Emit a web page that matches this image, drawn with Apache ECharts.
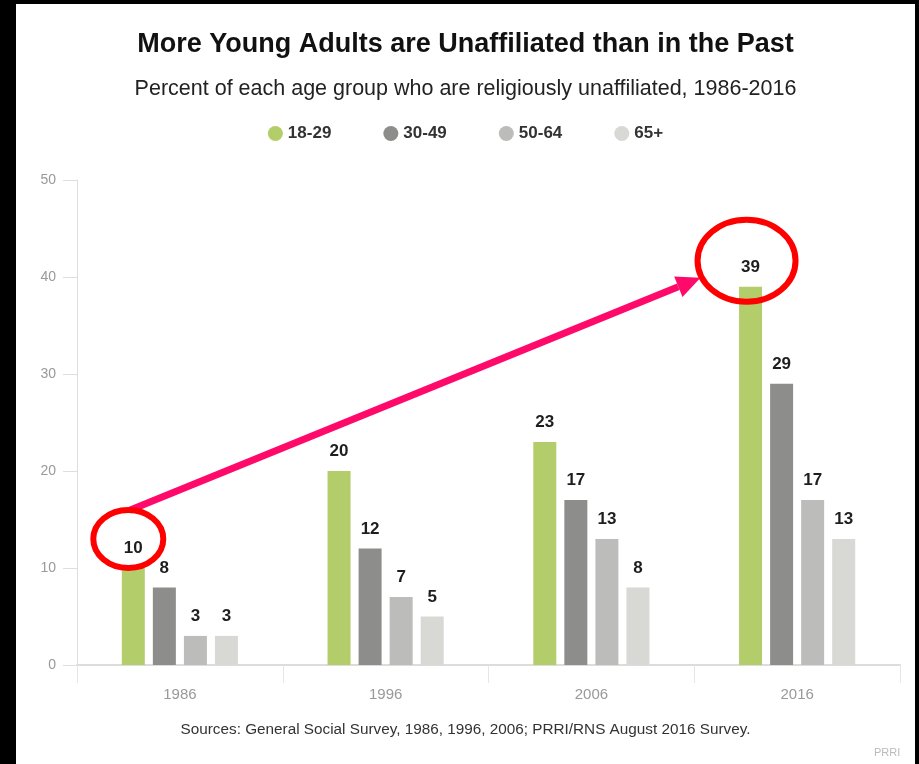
<!DOCTYPE html>
<html>
<head>
<meta charset="utf-8">
<title>More Young Adults are Unaffiliated than in the Past</title>
<script src="https://cdn.jsdelivr.net/npm/echarts@6/dist/echarts.min.js"></script>
<style>
  html, body {
    margin: 0;
    padding: 0;
    background: #000;
    width: 919px;
    height: 764px;
    overflow: hidden;
  }
  #chart {
    position: absolute;
    left: 16px;
    top: 4px;
    width: 899px;
    height: 760px;
    background: #fff;
  }
</style>
</head>
<body>
<div id="chart"></div>
<script>
// data
const years = ['1986', '1996', '2006', '2016']
const ageGroups = ['18-29', '30-49', '50-64', '65+']
const age18to29 = [10, 20, 23, 39]
const age30to49 = [8, 12, 17, 29]
const age50to64 = [3, 7, 13, 17]
const age65plus = [3, 5, 8, 13]
const yTicks = [0, 10, 20, 30, 40, 50]

const colors = ['#b3cd6a', '#8d8d8b', '#bcbcba', '#d8d8d5']
const narrow = '"Liberation Sans Narrow", "Arial Narrow", "Liberation Sans", sans-serif'

const chart = echarts.init(document.getElementById('chart'))

const barSeries = (name, values) => ({
  name: name,
  type: 'bar',
  data: values,
  barWidth: 23,
  barGap: '35%',
  label: {
    show: true,
    position: 'top',
    distance: 11,
    color: '#1e1e1e',
    fontSize: 17,
    fontWeight: 'bold',
    fontFamily: narrow
  }
})

const option = {
  animation: false,
  color: colors,
  title: [
    {
      text: 'More Young Adults are Unaffiliated than in the Past',
      left: 'center',
      top: 22,
      textStyle: { fontFamily: narrow, fontSize: 27, fontWeight: 'bold', color: '#111' }
    },
    {
      text: 'Percent of each age group who are religiously unaffiliated, 1986-2016',
      left: 'center',
      top: 69,
      textStyle: { fontFamily: narrow, fontSize: 21.5, fontWeight: 'normal', color: '#222' }
    },
    {
      text: 'Sources: General Social Survey, 1986, 1996, 2006; PRRI/RNS August 2016 Survey.',
      left: 'center',
      top: 713,
      textStyle: { fontFamily: narrow, fontSize: 15.3, fontWeight: 'normal', color: '#333' }
    },
    {
      text: 'PRRI',
      left: 853,
      top: 738,
      textStyle: { fontFamily: narrow, fontSize: 11, fontWeight: 'normal', color: '#bbb' }
    }
  ],
  legend: {
    data: ageGroups,
    top: 116,
    left: 'center',
    icon: 'circle',
    itemWidth: 15,
    itemHeight: 17,
    itemGap: 52,
    textStyle: { fontFamily: narrow, fontSize: 17, fontWeight: 'bold', color: '#333' }
  },
  grid: {
    left: 61,
    right: 15,
    top: 176,
    bottom: 99
  },
  xAxis: {
    type: 'category',
    data: years,
    axisLine: { lineStyle: { color: '#dcdcdc', width: 2 } },
    axisTick: { show: true, length: 18, lineStyle: { color: '#e6e6e6' } },
    axisLabel: { margin: 22, fontFamily: narrow, fontSize: 15, color: '#999' }
  },
  yAxis: {
    type: 'value',
    min: yTicks[0],
    max: yTicks[yTicks.length - 1],
    interval: 10,
    axisLine: { show: true, lineStyle: { color: '#dedede' } },
    axisTick: { show: true, length: 14, lineStyle: { color: '#dedede' } },
    splitLine: { show: false },
    axisLabel: { margin: 21, fontFamily: narrow, fontSize: 14, color: '#999' }
  },
  series: [
    barSeries(ageGroups[0], age18to29),
    barSeries(ageGroups[1], age30to49),
    barSeries(ageGroups[2], age50to64),
    barSeries(ageGroups[3], age65plus)
  ]
}

chart.setOption(option)

// annotations anchored to the 18-29 bars of 1986 and 2016
const youngData = chart.getModel().getSeriesByIndex(0).getData()
const first = youngData.getItemLayout(0)
const last = youngData.getItemLayout(years.length - 1)
const topOf = l => Math.min(l.y, l.y + l.height)

const e1 = { cx: first.x + first.width / 2 - 5, cy: topOf(first) - 29, rx: 35, ry: 29 }
const e2 = { cx: last.x + last.width / 2 - 4, cy: topOf(last) - 26, rx: 49, ry: 41 }

const start = [e1.cx + 2, e1.cy - e1.ry]
const tip = [e2.cx - e2.rx + 3, e2.cy + 17]
const ang = Math.atan2(tip[1] - start[1], tip[0] - start[0])
const headLen = 24
const headHalf = 11
const base = [tip[0] - headLen * Math.cos(ang), tip[1] - headLen * Math.sin(ang)]
const nx = -Math.sin(ang)
const ny = Math.cos(ang)

chart.setOption({
  graphic: [
    {
      type: 'line',
      shape: { x1: start[0], y1: start[1], x2: base[0], y2: base[1] },
      style: { stroke: '#ff0a6a', lineWidth: 7 },
      z: 100
    },
    {
      type: 'polygon',
      shape: {
        points: [
          tip,
          [base[0] + nx * headHalf, base[1] + ny * headHalf],
          [base[0] - nx * headHalf, base[1] - ny * headHalf]
        ]
      },
      style: { fill: '#ff0a6a' },
      z: 100
    },
    {
      type: 'ellipse',
      shape: e1,
      style: { fill: 'none', stroke: '#ff0000', lineWidth: 6 },
      z: 101
    },
    {
      type: 'ellipse',
      shape: e2,
      style: { fill: 'none', stroke: '#ff0000', lineWidth: 6 },
      z: 101
    }
  ]
})

window.addEventListener('resize', () => chart.resize())
</script>
</body>
</html>
